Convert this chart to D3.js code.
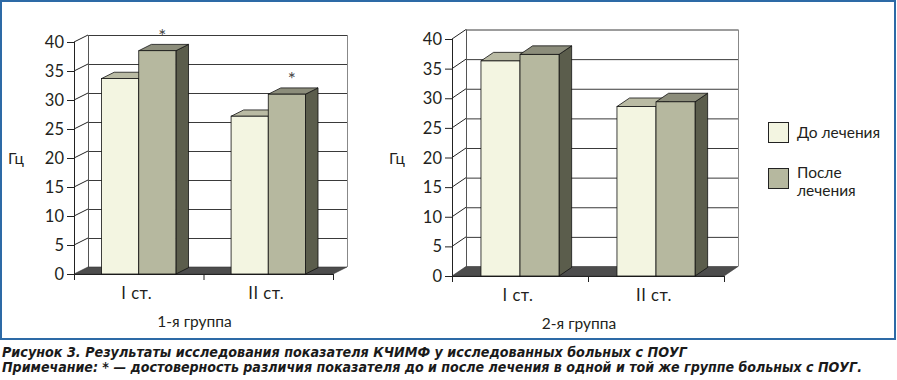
<!DOCTYPE html>
<html><head><meta charset="utf-8">
<script src="https://cdn.jsdelivr.net/npm/d3@7"></script>
<style>
body{margin:0;background:#fff;}
svg{display:block;}
text{font-family:Lato,"Noto Sans",sans-serif;fill:#231f20;}
.cap{font-family:"Liberation Sans Narrow","DejaVu Sans Condensed",sans-serif;font-weight:bold;font-style:italic;font-size:14.5px;fill:#1a1a1a;}
</style></head>
<body>
<svg id="c" width="897" height="380"></svg>
<script>
// ---- data ----
const categories = ["I ст.", "II ст."];
const groupTitles = ["1-я группа", "2-я группа"];
const seriesNames = ["До лечения", "После лечения"];
const group1Before = [33.7, 27.2];
const group1After  = [38.5, 31.0];
const group2Before = [36.3, 28.6];
const group2After  = [37.4, 29.4];
const group1Marks  = [true, true];   // significance asterisks over "После"
const group2Marks  = [false, false];
const yTicks = [0, 5, 10, 15, 20, 25, 30, 35, 40];
const yLabel = "Гц";
const captionLines = [
  "Рисунок 3. Результаты исследования показателя КЧИМФ у исследованных больных с ПОУГ",
  "Примечание: * — достоверность различия показателя до и после лечения в одной и той же группе больных с ПОУГ."
];

// ---- styles ----
const frontColors = ["#f3f5e1", "#b6b89f"];
const topColors   = ["#babba4", "#8c8d7b"];
const sideColor   = "#5b5d4c";
const floorColor  = "#4d4d4d";

const svg = d3.select("#c");

svg.append("rect").attr("x",1).attr("y",1).attr("width",894).attr("height",338)
  .attr("fill","none").attr("stroke","#2d6aa6").attr("stroke-width",2);

function drawChart(cfg){
  const g = svg.append("g");
  const x = d3.scaleBand().domain(categories).range([cfg.x0, cfg.x1]);
  const y = d3.scaleLinear().domain([0, 40]).range([cfg.yb, cfg.yt]);
  const dx = cfg.dx, dy = cfg.dy;
  const x0 = cfg.x0, x1 = cfg.x1;

  // back wall gridlines
  yTicks.forEach(v => {
    if (v === 0) return;
    g.append("line").attr("x1", x0+dx).attr("x2", x1+dx)
      .attr("y1", y(v)+dy+0.5).attr("y2", y(v)+dy+0.5)
      .attr("stroke", "#3a3a3a").attr("stroke-width", 1);
    g.append("line").attr("x1", x0).attr("x2", x0+dx)
      .attr("y1", y(v)).attr("y2", y(v)+dy)
      .attr("stroke", "#222").attr("stroke-width", 1);
  });
  // wall edges
  g.append("line").attr("x1", x0+dx+0.5).attr("x2", x0+dx+0.5)
    .attr("y1", y(40)+dy).attr("y2", y(0)+dy).attr("stroke","#555");
  g.append("line").attr("x1", x1+dx+0.5).attr("x2", x1+dx+0.5)
    .attr("y1", y(40)+dy).attr("y2", y(0)+dy).attr("stroke","#888");
  // floor
  g.append("path").attr("d", d3.line()([[x0,y(0)],[x1,y(0)],[x1+dx,y(0)+dy],[x0+dx,y(0)+dy]]) + "Z")
    .attr("fill", floorColor).attr("stroke","#333").attr("stroke-width",0.6);

  // front y axis
  g.append("line").attr("x1", x0+0.5).attr("x2", x0+0.5).attr("y1", y(40)).attr("y2", y(0))
    .attr("stroke","#222");
  yTicks.forEach(v => {
    g.append("line").attr("x1", x0-7).attr("x2", x0).attr("y1", y(v)+0.5).attr("y2", y(v)+0.5)
      .attr("stroke","#222");
    g.append("text").attr("x", x0-10).attr("y", y(v)+6).attr("text-anchor","end")
      .style("font-size","16.5px").text(v);
  });
  // x axis
  g.append("line").attr("x1", x0).attr("x2", x1).attr("y1", y(0)+0.5).attr("y2", y(0)+0.5).attr("stroke","#222");
  [x0, ...categories.map(c => x(c)+x.bandwidth())].forEach(t => {
    g.append("line").attr("x1", t+0.5).attr("x2", t+0.5).attr("y1", y(0)).attr("y2", y(0)+6).attr("stroke","#222");
  });

  // bars
  const bw = x.bandwidth()*0.287;
  const bdx = dx*0.9, bdy = dy*0.9;
  categories.forEach((c, i) => {
    const cx = x(c) + x.bandwidth()/2;
    [cfg.before[i], cfg.after[i]].forEach((v, s) => {
      const xa = cx - bw + s*bw, xb = xa + bw;
      const yt = y(v), y0 = y(0);
      g.append("path").attr("d", d3.line()([[xb,yt],[xb+bdx,yt+bdy],[xb+bdx,y0+bdy],[xb,y0]])+"Z")
        .attr("fill", sideColor).attr("stroke","#111").attr("stroke-width",0.8);
      g.append("path").attr("d", d3.line()([[xa,yt],[xb,yt],[xb+bdx,yt+bdy],[xa+bdx,yt+bdy]])+"Z")
        .attr("fill", topColors[s]).attr("stroke","#111").attr("stroke-width",0.8);
      g.append("rect").attr("x", xa).attr("y", yt).attr("width", bw).attr("height", y0-yt)
        .attr("fill", frontColors[s]).attr("stroke","#111").attr("stroke-width",0.8);
    });
    if (cfg.marks[i]) {
      g.append("text").attr("x", cx + bw/2 + 5).attr("y", y(cfg.after[i]) - 8)
        .attr("text-anchor","middle").style("font-size","19px").style("fill","#444").text("*");
    }
    g.append("text").attr("x", cx - 2).attr("y", y(0)+25).attr("text-anchor","middle")
      .style("font-size","16.5px").style("letter-spacing","0.5px").text(c);
  });
  g.append("text").attr("x", (x0+x1)/2 - 9).attr("y", y(0)+53).attr("text-anchor","middle")
    .style("font-size","15.5px").text(cfg.title);
  g.append("text").attr("x", cfg.labelX).attr("y", 164).style("font-size","15.5px").text(yLabel);
}

drawChart({x0:74, x1:333, yb:274, yt:42, dx:14, dy:-7, before:group1Before, after:group1After,
  marks:group1Marks, title:groupTitles[0], labelX:8});
drawChart({x0:452, x1:724, yb:276, yt:39, dx:14, dy:-9.5, before:group2Before, after:group2After,
  marks:group2Marks, title:groupTitles[1], labelX:389});

// legend
const leg = svg.append("g");
leg.append("rect").attr("x",768.5).attr("y",122.5).attr("width",20).attr("height",20)
  .attr("fill",frontColors[0]).attr("stroke","#222");
leg.append("text").attr("x",797).attr("y",138).style("font-size","15.5px").text(seriesNames[0]);
leg.append("rect").attr("x",768.5).attr("y",168.5).attr("width",20).attr("height",20)
  .attr("fill",frontColors[1]).attr("stroke","#222");
const parts = seriesNames[1].split(" ");
leg.append("text").attr("x",797).attr("y",178).style("font-size","15.5px").text(parts[0]);
leg.append("text").attr("x",797).attr("y",196).style("font-size","15.5px").text(parts[1]);

// caption
svg.append("text").attr("class","cap").attr("x",2).attr("y",357)
  .attr("textLength",685).attr("lengthAdjust","spacingAndGlyphs").text(captionLines[0]);
svg.append("text").attr("class","cap").attr("x",2).attr("y",372)
  .attr("textLength",860).attr("lengthAdjust","spacingAndGlyphs").text(captionLines[1]);
</script>
</body></html>
